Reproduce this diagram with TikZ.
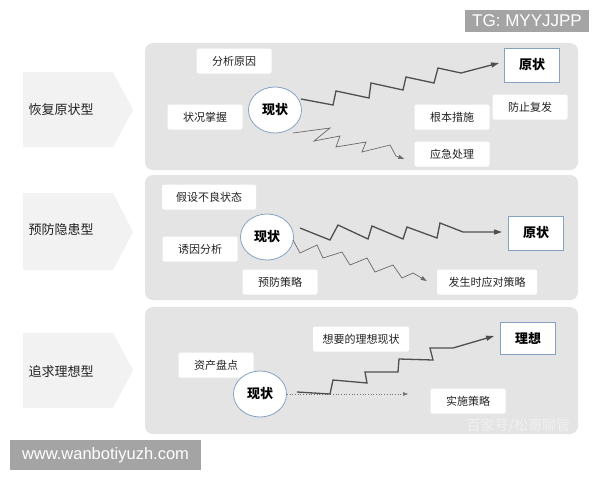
\documentclass[tikz,border=0pt]{standalone}
\usepackage{fontspec}
\setmainfont{Noto Sans CJK SC}
\newfontfamily\wmfont{Liberation Sans}
\usepackage{xcolor}
\usepackage{tikz}
\usetikzlibrary{calc,shapes.geometric,arrows.meta}
\definecolor{panel}{HTML}{E4E4E4}
\definecolor{chev}{HTML}{F2F2F2}
\definecolor{edge}{HTML}{86A2C2}
\definecolor{ink}{HTML}{222222}
\definecolor{zigline}{HTML}{4F4F4F}
\definecolor{wmgray}{HTML}{A4A4A4}
\tikzset{
  panelbg/.style={fill=panel, rounded corners=8pt},
  chevron/.style={fill=chev},
  kind/.style={anchor=west, text=ink, font=\fontsize{13}{13}\selectfont},
  box/.style={fill=white, rounded corners=2pt, minimum width=75pt, minimum height=25pt, inner xsep=8pt, text=ink, font=\fontsize{11}{11}\selectfont},
  goal/.style={draw=edge, fill=white, line width=0.9pt, minimum width=55pt, minimum height=34pt, text=black, font=\fontsize{13}{13}\selectfont\bfseries},
  now/.style={ellipse, draw=edge, fill=white, line width=0.8pt, minimum width=53pt, minimum height=46pt, inner sep=0pt, text=black, font=\fontsize{13}{13}\selectfont\bfseries},
  zig/.style={draw=zigline, line width=1.3pt, -{Triangle[length=8pt,width=5pt]}},
  zigthin/.style={draw=zigline!85, line width=0.7pt, -{Triangle[length=6pt,width=4pt]}},
  dotline/.style={draw=zigline!80, line width=0.7pt, dotted, -{Triangle[length=5pt,width=3.5pt]}},
  tag/.style={fill=wmgray, text=white, inner sep=0pt}
}

\begin{document}
\begin{tikzpicture}[x=1pt,y=-1pt]
  \fill[white] (0,0) rectangle (600,480);
  \useasboundingbox (0,0) rectangle (600,480);

  \fill[panelbg] (145,43) rectangle (578,170);
  \fill[panelbg] (145,175) rectangle (578,300);
  \fill[panelbg] (145,307) rectangle (578,434);
  \foreach \t/\m/\b in {72/110/147,193/232/270,333/370/408}
    \fill[chevron] (23,\t) -- (113,\t) -- (133,\m) -- (113,\b) -- (23,\b) -- cycle;

  % restore
  \node[kind] (kind1) at (25,110) {恢复原状型};
  \node[box] (cause1) at (234,61) {分析原因};
  \node[box] (grasp1) at (205,117) {状况掌握};
  \node[now] (now1) at (275,110) {现状};
  \node[goal] (goal1) at (532,65) {原状};
  \node[box] (relapse1) at (530,107) {防止复发};
  \node[box] (root1) at (452,117) {根本措施};
  \node[box] (urgent1) at (452,154) {应急处理};
  \draw[zig] ($(now1)+(26,-11)$) -- ++(32,6) -- ++(3,-14) -- ++(33,7) -- ++(2,-15) -- ++(32,7)
    -- ++(3,-13) -- ++(28,6) -- ++(4,-15) -- ++(23,5) -- ($(goal1.west)+(-5,-2)$);
  \draw[zigthin] ($(now1)+(18,23)$) -- ++(37,-5) -- ++(-16,13) -- ++(26,-5) -- ++(-4,11)
    -- ++(30,-5) -- ++(-4,10) -- ++(28,-7) -- ++(6,11) -- ($(urgent1.west)+(-10,5)$);

  % prevent
  \node[kind] (kind2) at (25,230) {预防隐患型};
  \node[box, minimum width=94pt] (assume2) at (209,197) {假设不良状态};
  \node[box] (cause2) at (200,249) {诱因分析};
  \node[now] (now2) at (267,237) {现状};
  \node[goal] (goal2) at (536,233) {原状};
  \node[box] (prevent2) at (280,282) {预防策略};
  \node[box, minimum width=100pt] (respond2) at (487,282) {发生时应对策略};
  \draw[zig] ($(now2)+(33,-9)$) -- ++(30,12) -- ++(8,-15) -- ++(30,14) -- ++(4,-13) -- ++(31,13)
    -- ++(4,-12) -- ++(30,11) -- ++(3,-15) -- ++(23,9) -- ($(goal2.west)+(-6,-1)$);
  \draw[zigthin] ($(now2)+(26,3)$) -- ++(7,13) -- ++(17,-8) -- ++(6,13) -- ++(19,-6) -- ++(8,13)
    -- ++(17,-7) -- ++(8,14) -- ++(18,-7) -- ++(9,13) -- ++(11,-5) -- ($(respond2.west)+(-10,-1)$);

  % ideal
  \node[kind] (kind3) at (25,372) {追求理想型};
  \node[box, minimum width=96pt] (want3) at (361,339) {想要的理想现状};
  \node[box] (stock3) at (216,365) {资产盘点};
  \node[now] (now3) at (260,394) {现状};
  \node[goal, minimum height=32pt] (goal3) at (528,338) {理想};
  \node[box] (act3) at (468,401) {实施策略};
  \coordinate (plan3) at (408,394);
  \draw[dotline] (now3.east) -- (plan3);
  \draw[zig] ($(now3)+(37,-2)$) -- ++(33,2) -- ++(3,-14) -- ++(34,3) -- ++(-2,-11) -- ++(33,0)
    -- ++(1,-13) -- ++(34,1) -- ++(-3,-12) -- ++(23,0) -- ($(goal3.west)+(-6,-2)$);

  \node[tag, minimum width=124pt, minimum height=22pt, font=\wmfont\fontsize{17}{17}\selectfont] (tg) at (527,21) {TG: MYYJJPP};
  \node[tag, minimum width=191pt, minimum height=30pt, font=\wmfont\fontsize{16.5}{16.5}\selectfont] (site) at (105.5,455) {www.wanbotiyuzh.com};
  \node[anchor=west, text=white, opacity=0.45, font=\fontsize{14}{14}\selectfont] (bjh) at (463,426) {百家号/松哥聊管};
\end{tikzpicture}
\end{document}
